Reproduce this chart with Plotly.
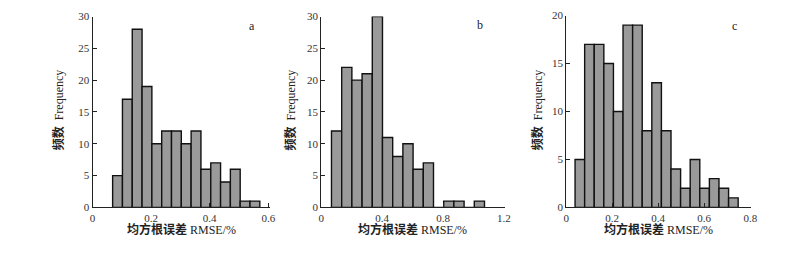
import plotly.graph_objects as go

# ---- data ----
counts_a = [5, 17, 28, 19, 10, 12, 12, 10, 12, 6, 7, 4, 6, 1, 1]
bin_start_a = 0.0685
bin_width_a = 0.0335

counts_b = [12, 22, 20, 21, 30, 11, 8, 10, 6, 7, 0, 1, 1, 0, 1]
bin_start_b = 0.067
bin_width_b = 0.067

counts_c = [5, 17, 17, 15, 10, 19, 19, 8, 13, 8, 4, 2, 5, 2, 3, 2, 1]
bin_start_c = 0.0386
bin_width_c = 0.0417

xticks_a = [0, 0.2, 0.4, 0.6]
xticks_b = [0, 0.4, 0.8, 1.2]
xticks_c = [0, 0.2, 0.4, 0.6, 0.8]
yticks_ab = [0, 5, 10, 15, 20, 25, 30]
yticks_c = [0, 5, 10, 15, 20]

panel_labels = ["a", "b", "c"]
x_title = "均方根误差 RMSE/%"
y_title = "频数  Frequency"

W, H = 801, 265
SERIF = "Liberation Serif, Times New Roman, serif"
CJK = "Liberation Serif, Noto Sans CJK SC, serif"

panels = [
    dict(counts=counts_a, start=bin_start_a, width=bin_width_a, xdom=(90.7, 270), xr=0.6045,
         ydom=(211, 11), yr=30, xt=xticks_a, yt=yticks_ab, lab=(252, 21), ytx=56),
    dict(counts=counts_b, start=bin_start_b, width=bin_width_b, xdom=(322.3, 508), xr=1.2044,
         ydom=(211, 11), yr=30, xt=xticks_b, yt=yticks_ab, lab=(483, 20), ytx=291),
    dict(counts=counts_c, start=bin_start_c, width=bin_width_c, xdom=(570.3, 757), xr=0.8013,
         ydom=(211, 10), yr=20, xt=xticks_c, yt=yticks_c, lab=(741, 21), ytx=541),
]

fig = go.Figure()
annotations = []
for i, p in enumerate(panels):
    n = "" if i == 0 else str(i + 1)
    centers = [p["start"] + (k + 0.5) * p["width"] for k in range(len(p["counts"]))]
    fig.add_trace(go.Bar(
        x=centers, y=p["counts"], width=p["width"],
        marker=dict(color="#9a9a9a", line=dict(color="#111111", width=1.4)),
        xaxis="x" + n, yaxis="y" + n, showlegend=False, hoverinfo="skip",
    ))
    ax = dict(
        domain=[p["xdom"][0] / W, p["xdom"][1] / W], range=[0, p["xr"]],
        tickvals=p["xt"], ticktext=[("%g" % v) for v in p["xt"]],
        showline=True, linecolor="#222", linewidth=1, ticks="inside", ticklen=4,
        tickcolor="#222", showgrid=False, zeroline=False,
        tickfont=dict(family=SERIF, size=11, color="#333"),
        anchor="y" + n, fixedrange=True,
    )
    ay = dict(
        domain=[(H - p["ydom"][0]) / H, (H - p["ydom"][1]) / H], range=[0, p["yr"]],
        tickvals=p["yt"], showline=True, linecolor="#222", linewidth=1,
        ticks="inside", ticklen=4, tickcolor="#222", showgrid=False, zeroline=False,
        tickfont=dict(family=SERIF, size=11, color="#333"),
        anchor="x" + n, fixedrange=True,
    )
    fig.update_layout(**{"xaxis" + n: ax, "yaxis" + n: ay})
    xc = (p["xdom"][0] + p["xdom"][1]) / 2
    annotations.append(dict(x=xc / W, y=(H - 234) / H, xref="paper", yref="paper",
                            text="<b>" + x_title.split(" ")[0] + "</b> " + x_title.split(" ", 1)[1],
                            showarrow=False, xanchor="center", yanchor="middle",
                            font=dict(family=CJK, size=12, color="#222")))
    annotations.append(dict(x=p["ytx"] / W, y=(H - 109) / H, xref="paper", yref="paper",
                            text="<b>" + y_title.split(" ")[0] + "</b>  " + y_title.split("  ", 1)[1],
                            showarrow=False, textangle=-90,
                            xanchor="center", yanchor="middle",
                            font=dict(family=CJK, size=12, color="#222")))
    annotations.append(dict(x=p["lab"][0] / W, y=(H - p["lab"][1]) / H, xref="paper", yref="paper",
                            text=panel_labels[i], showarrow=False, xanchor="center", yanchor="middle",
                            font=dict(family=SERIF, size=12, color="#222")))

fig.update_layout(
    width=W, height=H, margin=dict(l=0, r=0, t=0, b=0),
    paper_bgcolor="white", plot_bgcolor="white", bargap=0,
    annotations=annotations, hovermode=False,
)
fig.write_html("out.html",
               config={"displayModeBar": False, "staticPlot": True},
               post_script="document.body.style.margin='0';document.body.style.padding='0';"
                           "document.body.style.overflow='hidden';")
